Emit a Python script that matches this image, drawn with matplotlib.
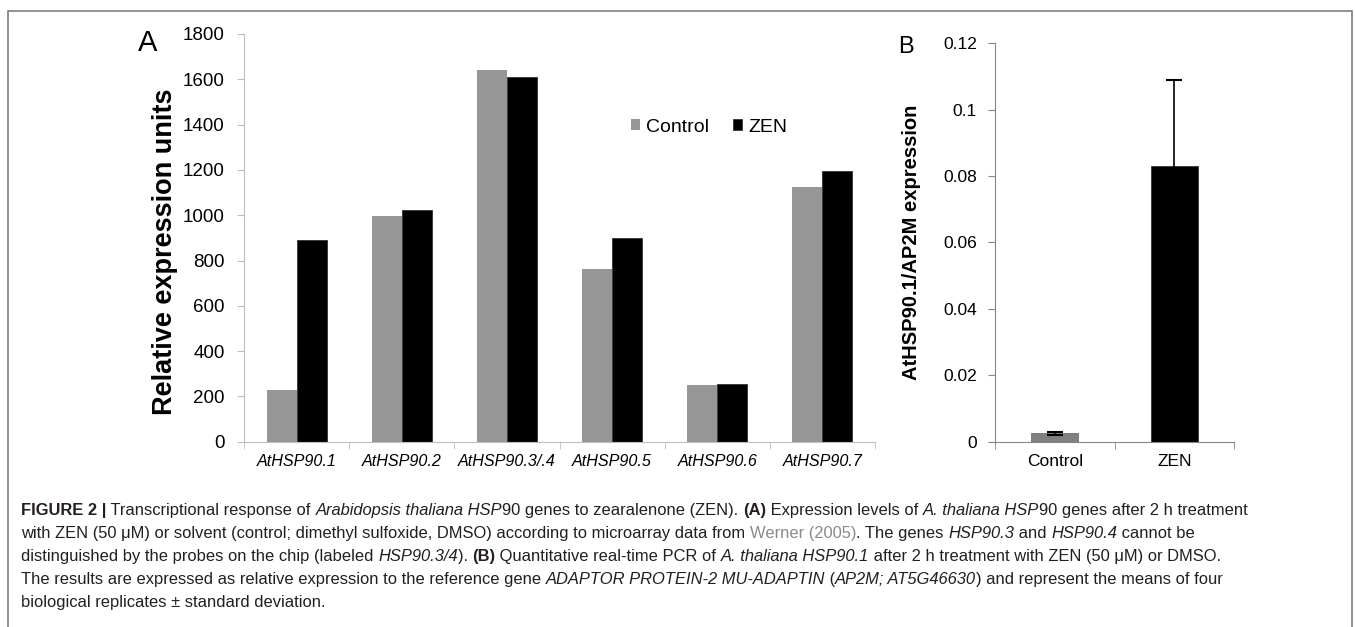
import numpy as np
import matplotlib
matplotlib.use("Agg")
import matplotlib.pyplot as plt
from matplotlib.patches import Rectangle

plt.rcParams['font.family'] = ['Liberation Sans', 'DejaVu Sans']

# panel A data (microarray)
genes = ["AtHSP90.1", "AtHSP90.2", "AtHSP90.3/.4", "AtHSP90.5", "AtHSP90.6", "AtHSP90.7"]
control_a = [228, 995, 1641, 762, 252, 1126]
zen_a = [890, 1024, 1609, 898, 255, 1196]

# panel B data (qPCR)
groups_b = ["Control", "ZEN"]
values_b = [0.0025, 0.0831]
errors_b = [0.0004, 0.0258]

W, H = 1355, 627
fig = plt.figure(figsize=(W / 100, H / 100), dpi=100)

# outer frame
fig.patches.append(Rectangle((8 / W, -0.05), (1352 - 8) / W, 1.05 - 11 / H,
                             transform=fig.transFigure, fill=False,
                             edgecolor="#7f7f7f", linewidth=1.2))

# ---- panel A
axA = fig.add_axes([244 / W, 1 - 441.7 / H, 631 / W, 407.7 / H])
x = np.arange(len(genes))
bw = 0.285
axA.bar(x - bw / 2, control_a, bw, color="#969696", label="Control")
axA.bar(x + bw / 2, zen_a, bw, color="black", edgecolor="#333333", linewidth=0.6, label="ZEN")
axA.set_xlim(-0.5, len(genes) - 0.5)
axA.set_ylim(0, 1800)
axA.set_yticks(np.arange(0, 1801, 200))
axA.set_xticks(x)
axA.set_xticklabels(genes, fontstyle="italic", fontsize=11.6)
axA.set_xticks(np.arange(-0.5, len(genes), 1), minor=True)
axA.tick_params(axis="x", which="major", length=0, pad=9)
axA.tick_params(axis="x", which="minor", length=5, color="#bfbfbf", direction="out")
axA.tick_params(axis="y", length=5, color="#bfbfbf", labelsize=13.5, pad=9)
for s in ["top", "right"]:
    axA.spines[s].set_visible(False)
for s in ["left", "bottom"]:
    axA.spines[s].set_color("#bfbfbf")
axA.set_ylabel("Relative expression units", fontsize=19.5, fontweight="bold")
axA.yaxis.set_label_coords(-0.105, 0.465)
axA.legend(loc="upper left", bbox_to_anchor=(0.585, 0.835), ncol=2, frameon=False,
           fontsize=14, handlelength=0.5, handleheight=0.5, handletextpad=0.3,
           columnspacing=1.2)
fig.text(138 / W, 1 - 43 / H, "A", fontsize=21, va="center")

# ---- panel B
axB = fig.add_axes([995 / W, 1 - 441.7 / H, 239 / W, 398.4 / H])
xb = np.arange(len(groups_b))
axB.bar(xb, values_b, 0.395, color=["#808080", "black"], edgecolor=["#6f6f6f", "#333333"],
        linewidth=0.6)
axB.errorbar(xb, values_b, yerr=errors_b, fmt="none", ecolor="black",
             elinewidth=1.2, capsize=6, capthick=1.5)
axB.set_xlim(-0.5, len(groups_b) - 0.5)
axB.set_ylim(0, 0.12)
axB.set_yticks([0, 0.02, 0.04, 0.06, 0.08, 0.1, 0.12])
axB.set_yticklabels(["0", "0.02", "0.04", "0.06", "0.08", "0.1", "0.12"], fontsize=12.5)
axB.set_xticks(xb)
axB.set_xticklabels(groups_b, fontsize=12.5)
axB.set_xticks(np.arange(-0.5, len(groups_b), 1), minor=True)
axB.tick_params(axis="x", which="major", length=0, pad=9)
axB.tick_params(axis="x", which="minor", length=5, color="#868686", direction="out")
axB.tick_params(axis="y", length=5, color="#868686", pad=8)
for s in ["top", "right"]:
    axB.spines[s].set_visible(False)
for s in ["left", "bottom"]:
    axB.spines[s].set_color("#868686")
axB.set_ylabel("AtHSP90.1/AP2M expression", fontsize=14.5, fontweight="bold", labelpad=16)
fig.text(898 / W, 1 - 47 / H, "B", fontsize=17, va="center")

# ---- caption with mixed styles
renderer = fig.canvas.get_renderer()
cap_size = 11.88
cap_color = "#231f20"


def run_width(s, **kw):
    t = fig.text(0, 0, "|" + s + "|", fontsize=cap_size, **kw)
    w1 = t.get_window_extent(renderer).width
    t.set_text("||")
    w2 = t.get_window_extent(renderer).width
    t.remove()
    return w1 - w2


styles = {
    "n": dict(color=cap_color),
    "b": dict(color=cap_color, fontweight="bold"),
    "i": dict(color=cap_color, fontstyle="italic"),
    "g": dict(color="#8a8a8a"),
}

caption = [
    [("FIGURE 2 |", "b"), (" Transcriptional response of ", "n"), ("Arabidopsis thaliana HSP", "i"),
     ("90 genes to zearalenone (ZEN). ", "n"), ("(A)", "b"), (" Expression levels of ", "n"),
     ("A. thaliana HSP", "i"), ("90 genes after 2 h treatment", "n")],
    [("with ZEN (50 μM) or solvent (control; dimethyl sulfoxide, DMSO) according to microarray data from ", "n"),
     ("Werner (2005)", "g"), (". The genes ", "n"), ("HSP90.3", "i"), (" and ", "n"), ("HSP90.4", "i"),
     (" cannot be", "n")],
    [("distinguished by the probes on the chip (labeled ", "n"), ("HSP90.3/4", "i"), ("). ", "n"),
     ("(B)", "b"), (" Quantitative real-time PCR of ", "n"), ("A. thaliana HSP90.1", "i"),
     (" after 2 h treatment with ZEN (50 μM) or DMSO.", "n")],
    [("The results are expressed as relative expression to the reference gene ", "n"),
     ("ADAPTOR PROTEIN-2 MU-ADAPTIN", "i"), (" (", "n"), ("AP2M; AT5G46630", "i"),
     (") and represent the means of four", "n")],
    [("biological replicates ± standard deviation.", "n")],
]

y0 = 515
for k, line in enumerate(caption):
    xpix = 21
    ypix = y0 + 23 * k
    for s, st in line:
        fig.text(xpix / W, 1 - ypix / H, s, fontsize=cap_size, va="baseline", **styles[st])
        xpix += run_width(s, **styles[st])

fig.savefig("out.png", dpi=100)
